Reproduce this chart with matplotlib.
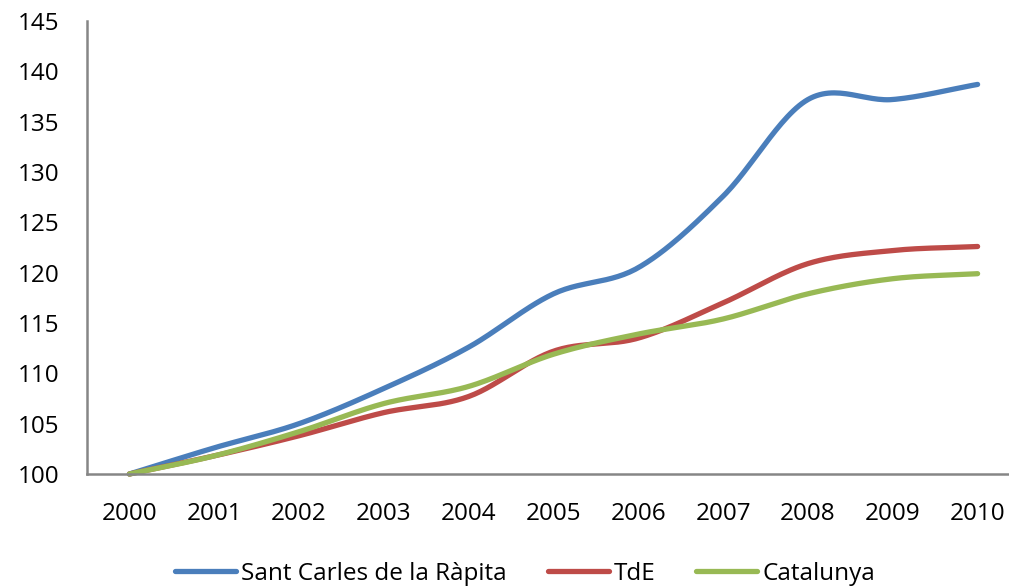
import numpy as np
import matplotlib
matplotlib.use("Agg")
import matplotlib.pyplot as plt
from matplotlib.lines import Line2D

years = ["2000", "2001", "2002", "2003", "2004", "2005", "2006", "2007", "2008", "2009", "2010"]
sant_carles = [100, 102.6, 105.0, 108.5, 112.6, 117.9, 120.5, 127.6, 137.2, 137.2, 138.7]
tde = [100, 101.8, 103.8, 106.1, 107.7, 112.2, 113.5, 117.0, 120.9, 122.2, 122.6]
catalunya = [100, 101.8, 104.2, 107.0, 108.7, 111.9, 113.9, 115.4, 117.9, 119.4, 119.9]

yticks = [100, 105, 110, 115, 120, 125, 130, 135, 140, 145]

def smooth(xs, ys, n=30):
    xs = np.asarray(xs, float); ys = np.asarray(ys, float)
    px = np.concatenate([[2*xs[0]-xs[1]], xs, [2*xs[-1]-xs[-2]]])
    py = np.concatenate([[2*ys[0]-ys[1]], ys, [2*ys[-1]-ys[-2]]])
    ox, oy = [], []
    t = np.linspace(0, 1, n)
    for i in range(1, len(px)-2):
        for arr, out in ((px, ox), (py, oy)):
            p0, p1, p2, p3 = arr[i-1], arr[i], arr[i+1], arr[i+2]
            seg = 0.5*((2*p1) + (-p0+p2)*t + (2*p0-5*p1+4*p2-p3)*t**2 + (-p0+3*p1-3*p2+p3)*t**3)
            out.extend(seg if i == 1 else seg[1:])
    return np.array(ox), np.array(oy)

plt.rcParams['font.family'] = ['Open Sans', 'DejaVu Sans']
fig = plt.figure(figsize=(10.09, 5.88), dpi=100)
W, H = 1009, 588
left, right, top, bottom = 87, 1020, 21, 474
ax = fig.add_axes([left/W, 1-bottom/H, (right-left)/W, (bottom-top)/H])

x = np.arange(len(years))
series = [(sant_carles, "#4A7EBB", "Sant Carles de la Ràpita"),
          (tde, "#BE4B48", "TdE"),
          (catalunya, "#98B954", "Catalunya")]
handles = []
for ys, c, lab in series:
    sx, sy = smooth(x, ys)
    ax.plot(sx, sy, color=c, lw=3.8, solid_capstyle='round', clip_on=False)
    handles.append(Line2D([0], [0], color=c, lw=3.8, solid_capstyle='round', label=lab))

ax.set_xlim(-0.5, len(years)-0.5)
ax.set_ylim(100, 145)
ax.set_yticks(yticks)
ax.set_xticks(x)
ax.set_xticklabels(years)
ax.tick_params(axis='both', length=0, labelsize=17.5, colors='black')
ax.tick_params(axis='y', pad=20)
ax.tick_params(axis='x', pad=20)
for s in ['top', 'right']:
    ax.spines[s].set_visible(False)
for s in ['left', 'bottom']:
    ax.spines[s].set_color('#868686')
    ax.spines[s].set_linewidth(1.8)

fig.legend(handles=handles, loc='center', bbox_to_anchor=(525/W, 1-574/H), ncol=3,
           frameon=False, fontsize=17.5, handlelength=2.5, handletextpad=0.2,
           columnspacing=1.7, borderpad=0)

fig.savefig("out.png", dpi=100)
